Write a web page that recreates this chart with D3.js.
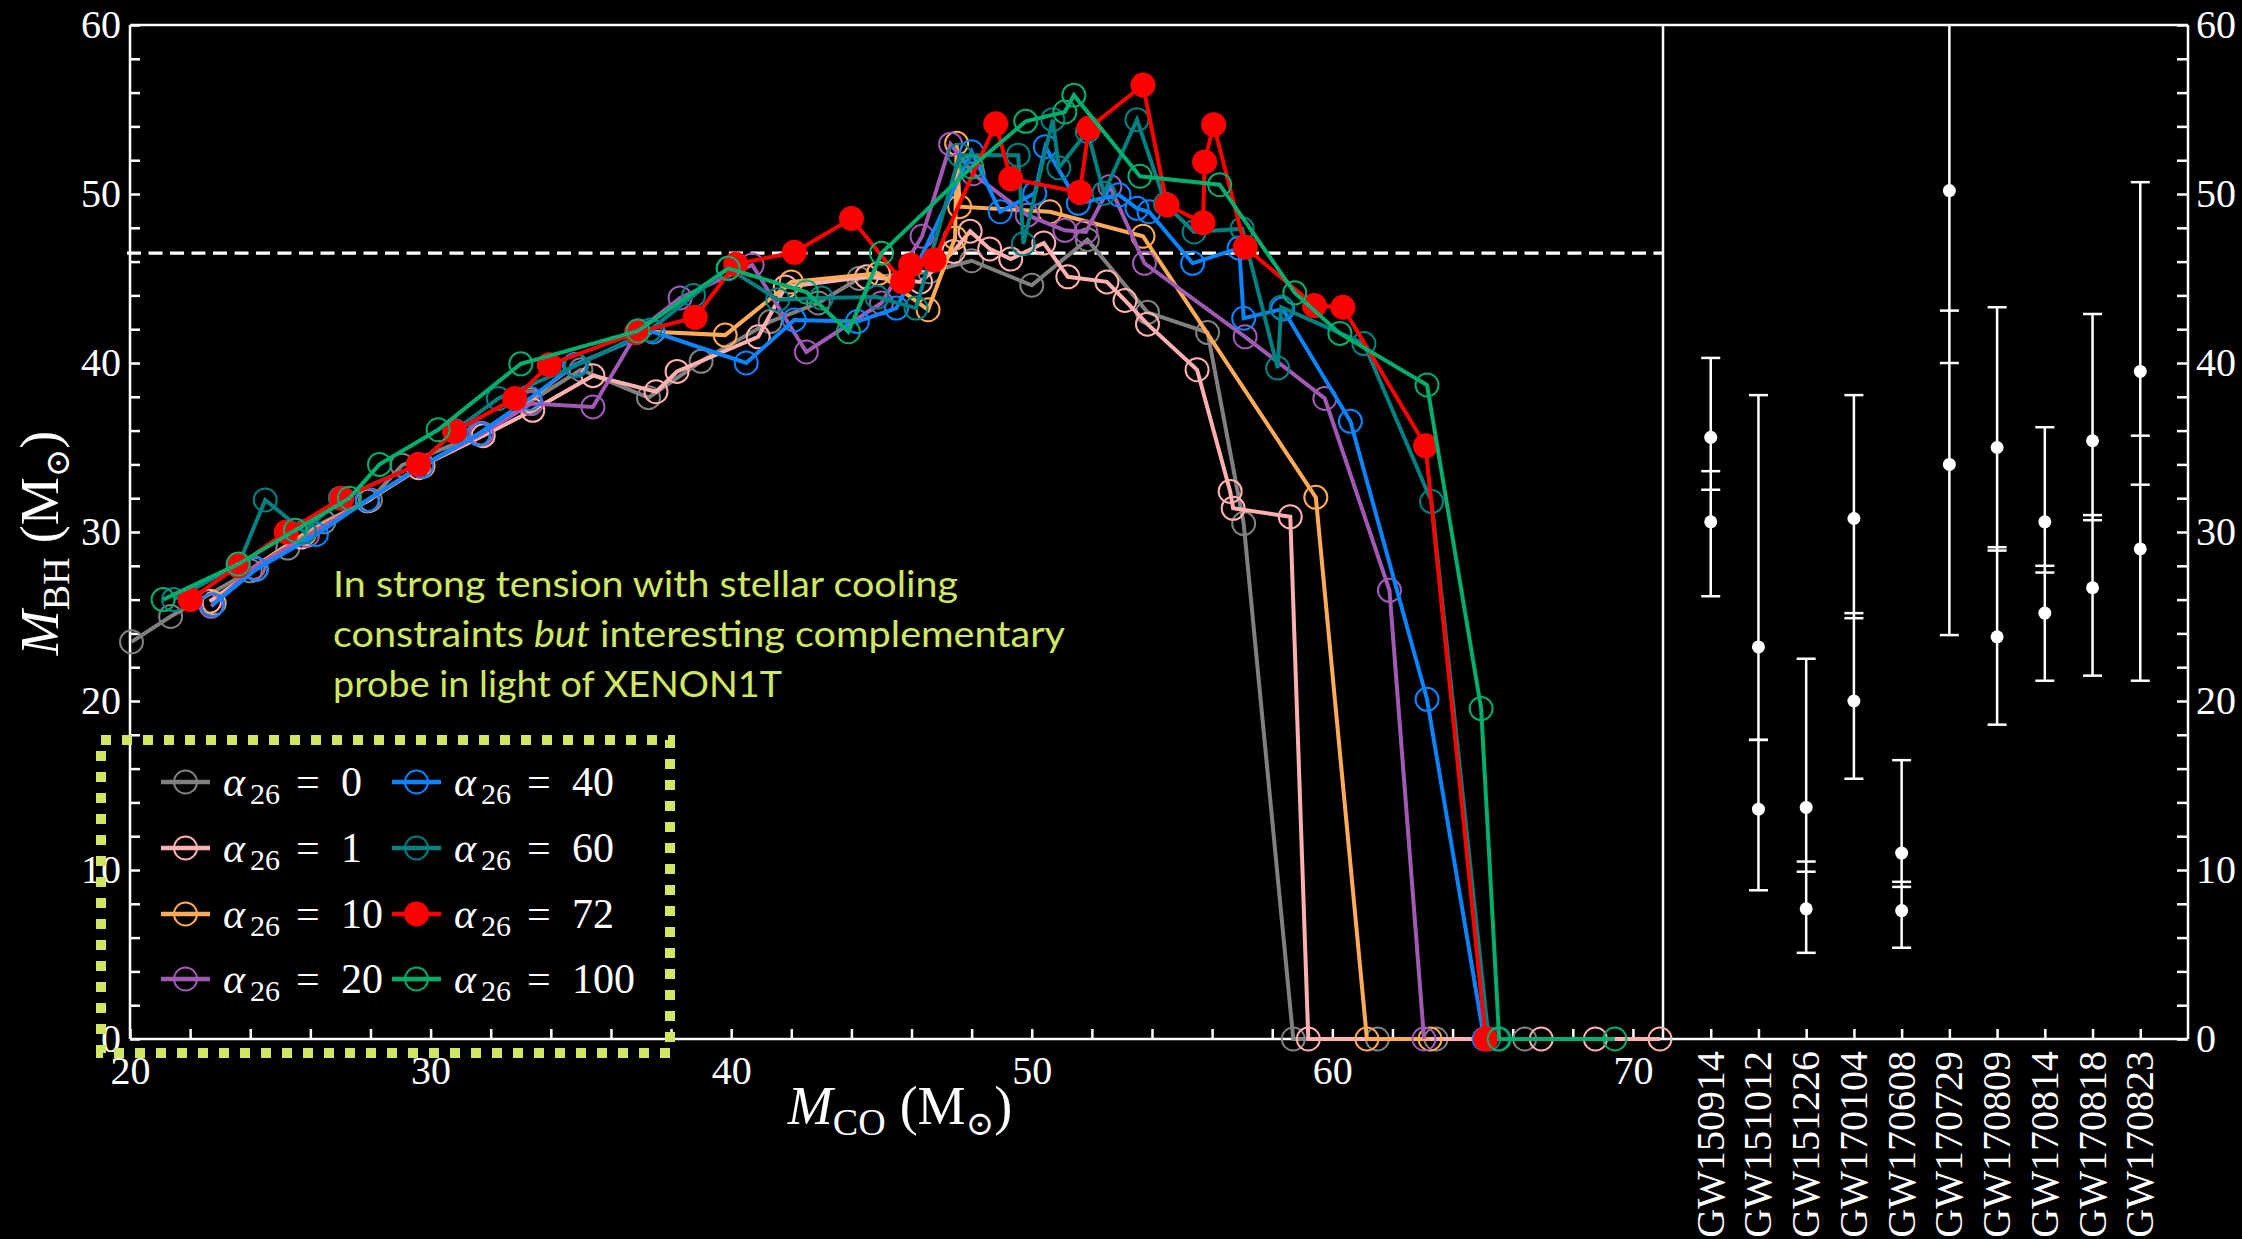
<!DOCTYPE html>
<html>
<head>
<meta charset="utf-8">
<script src="https://cdn.jsdelivr.net/npm/d3@7"></script>
<style>
  html, body { margin: 0; padding: 0; background: #000; }
  svg { display: block; }
  .serif { font-family: "Liberation Serif", "DejaVu Serif", serif; }
</style>
</head>
<body>
<svg id="chart" width="2242" height="1239"></svg>
<script>
// ---- Black-hole mass vs CO-core mass, one curve per coupling alpha_26 ----
const alphaValues = ["0", "1", "10", "20", "40", "60", "72", "100"];

const alpha0 = [[20.05,23.5],[21.35,25.0],[24.0,27.7],[25.25,29.05],[26.45,30.6],[28.0,31.9],[29.05,33.95],[31.7,35.85],[33.3,37.7],[35.0,39.6],[37.25,37.95],[39.0,40.1],[41.3,42.45],[42.9,43.55],[44.25,45.0],[46.6,45.4],[48.0,46.05],[50.0,44.6],[51.85,47.3],[53.85,43.0],[55.85,41.8],[57.05,30.5],[58.7,0],[61.5,0],[63.45,0],[66.4,0]];
const alpha1 = [[22.65,25.9],[24.2,27.8],[25.7,29.7],[27.9,31.85],[29.6,33.8],[31.75,35.7],[33.4,37.2],[35.4,39.25],[37.5,38.3],[38.2,39.5],[40.9,41.55],[41.8,44.5],[44.5,45.1],[46.3,44.8],[47.4,46.6],[47.95,47.8],[48.6,46.75],[49.3,46.15],[50.4,47.1],[51.2,45.1],[52.5,44.8],[53.1,43.7],[53.85,42.3],[55.5,39.6],[56.6,32.4],[56.7,31.4],[58.6,30.9],[59.2,0],[66.95,0],[68.75,0],[70.9,0]];
const alpha10 = [[22.8,25.8],[24.1,27.9],[25.8,29.9],[27.9,31.85],[29.75,33.9],[31.6,35.8],[33.3,37.85],[34.8,39.9],[37.4,41.85],[39.8,41.65],[42.0,44.8],[44.9,45.3],[46.55,43.15],[47.45,47.4],[47.5,53.0],[47.6,49.25],[50.6,48.95],[53.7,47.5],[59.45,32.05],[61.15,0],[63.25,0]];
const alpha20 = [[22.7,25.6],[24.1,27.9],[25.9,29.8],[27.9,31.9],[29.7,33.9],[31.7,35.8],[33.35,37.6],[35.4,37.4],[36.9,41.9],[38.3,43.85],[40.7,45.8],[42.5,40.65],[45.0,43.55],[46.35,47.5],[47.3,52.95],[48.05,51.2],[49.85,48.75],[51.1,47.85],[51.8,47.75],[52.6,50.45],[53.75,45.9],[57.1,41.55],[59.75,37.9],[61.9,26.55],[63.05,0]];
const alpha40 = [[22.75,25.7],[24.2,27.8],[26.2,29.85],[27.9,31.9],[29.7,33.9],[31.6,35.8],[33.3,37.9],[34.8,39.9],[37.4,41.85],[40.5,40.0],[42.1,42.55],[44.2,42.45],[45.5,43.25],[48.0,52.5],[48.95,48.95],[50.1,50.05],[50.45,52.8],[51.55,49.45],[52.9,49.95],[53.5,49.15],[53.9,48.95],[55.35,45.9],[56.9,46.8],[57.05,42.65],[58.35,43.2],[60.6,36.55],[63.15,20.1],[65.05,0]];
const alpha60 = [[21.45,26.0],[23.6,28.05],[24.5,31.9],[25.8,30.0],[27.0,32.0],[29.6,34.0],[30.8,36.0],[32.25,37.9],[34.85,39.85],[37.3,41.95],[38.75,44.0],[39.9,45.6],[41.55,43.75],[43.0,43.85],[44.85,43.9],[46.15,43.25],[47.6,52.3],[49.55,52.3],[49.72,47.05],[50.7,54.4],[50.9,51.55],[51.85,53.7],[52.4,50.05],[53.5,54.4],[54.45,49.4],[55.4,47.75],[57.0,47.95],[58.18,39.7],[58.3,43.3],[61.05,41.15],[63.3,31.8],[65.2,0],[65.5,0]];
const alpha72 = [[22.0,26.0],[23.6,28.0],[25.2,30.0],[27.05,32.0],[29.6,34.0],[30.8,35.95],[32.8,37.9],[33.95,39.9],[36.85,41.8],[38.8,42.7],[40.15,45.85],[42.1,46.55],[44.0,48.55],[45.7,44.8],[45.97,45.8],[46.75,46.1],[48.8,54.15],[49.3,50.9],[51.6,50.1],[51.9,53.9],[53.7,56.45],[54.5,49.35],[55.7,48.3],[55.75,51.9],[56.05,54.1],[57.1,46.85],[59.4,43.4],[60.35,43.3],[63.1,35.1],[65.1,0]];
const alpha100 = [[21.1,26.0],[23.6,28.1],[25.5,30.1],[27.3,32.0],[28.3,34.0],[30.25,36.05],[33.0,39.95],[36.9,41.9],[39.9,45.6],[42.5,44.2],[43.9,41.85],[45.0,46.5],[48.0,51.6],[49.8,54.3],[51.1,54.85],[51.4,55.85],[53.6,51.05],[56.25,50.55],[58.75,44.15],[60.25,41.75],[63.15,38.7],[64.95,19.55],[65.55,0],[69.4,0]];

const seriesData = [alpha0, alpha1, alpha10, alpha20, alpha40, alpha60, alpha72, alpha100];

// pair-instability threshold line (M_BH)
const thresholdMass = 46.5;

// ---- GWTC-1 binary black-hole component masses (median, +upper, -lower) ----
const gwEvents = ["GW150914","GW151012","GW151226","GW170104","GW170608","GW170729","GW170809","GW170814","GW170818","GW170823"];
const m1      = [35.6, 23.2, 13.7, 30.8, 11.0, 50.2, 35.0, 30.6, 35.4, 39.5];
const m1Plus  = [ 4.7, 14.9,  8.8,  7.3,  5.5, 16.2,  8.3,  5.6,  7.5, 11.2];
const m1Minus = [ 3.1,  5.5,  3.2,  5.6,  1.7, 10.2,  5.9,  3.0,  4.7,  6.7];
const m2      = [30.6, 13.6,  7.7, 20.0,  7.6, 34.0, 23.8, 25.2, 26.7, 29.0];
const m2Plus  = [ 3.0,  4.1,  2.2,  4.9,  1.4,  9.1,  5.1,  2.8,  4.3,  6.7];
const m2Minus = [ 4.4,  4.8,  2.6,  4.6,  2.2, 10.1,  5.2,  4.0,  5.2,  7.8];

// ---- styling ----
const seriesColors = ["#808080", "#ffb0b0", "#ffab57", "#a05ab4", "#0a84ff", "#008080", "#ff0000", "#00ae6e"];
const accent = "#cfe762";

const svg = d3.select("#chart");
svg.append("rect").attr("width", 2242).attr("height", 1239).attr("fill", "#000");

const x = d3.scaleLinear().domain([20, 71]).range([130, 1663]);
const y = d3.scaleLinear().domain([0, 60]).range([1039, 25]);
const gx = d3.scaleLinear().domain([0, 11]).range([1663, 2188]);

const plotLeft = x.range()[0], plotMid = x.range()[1], plotRight = gx.range()[1];
const plotTop = y.range()[1], plotBottom = y.range()[0];

// ---- axes (ticks point inward) ----
function styleAxis(g) {
  g.attr("font-family", null).attr("font-size", null);
  g.select(".domain").remove();
  g.selectAll(".tick line").attr("stroke", "#fff").attr("stroke-width", 2.5);
  g.selectAll(".tick text").attr("class", "serif").attr("fill", "#fff").style("font-size", "40px");
}
const majorFmt = d => (d % 10 === 0 ? d : "");

svg.append("g").attr("transform", `translate(${plotLeft},0)`)
  .call(d3.axisLeft(y).tickValues(d3.range(0, 61, 2)).tickSize(-10).tickPadding(9).tickFormat(majorFmt))
  .call(styleAxis);

svg.append("g").attr("transform", `translate(${plotRight},0)`)
  .call(d3.axisRight(y).tickValues(d3.range(0, 61, 2)).tickSize(-11).tickPadding(8).tickFormat(majorFmt))
  .call(styleAxis);

svg.append("g").attr("transform", `translate(0,${plotBottom})`)
  .call(d3.axisBottom(x).tickValues(d3.range(20, 71, 2)).tickSize(-10).tickPadding(17).tickFormat(majorFmt))
  .call(styleAxis);

svg.append("g").attr("transform", `translate(0,${plotBottom})`)
  .call(d3.axisBottom(gx).tickValues(d3.range(1, gwEvents.length + 1)).tickSize(-10).tickFormat(""))
  .call(styleAxis);

// event names, rotated
svg.append("g").selectAll("text").data(gwEvents).join("text")
  .attr("class", "serif")
  .attr("transform", (d, i) => `translate(${gx(i + 1) + 13},${plotBottom + 12}) rotate(-90)`)
  .attr("text-anchor", "end")
  .attr("fill", "#fff").style("font-size", "40px")
  .text(d => d);

// frame
const frame = svg.append("g").attr("stroke", "#fff").attr("stroke-width", 2.5).attr("fill", "none");
frame.append("line").attr("x1", plotLeft).attr("x2", plotRight).attr("y1", plotTop).attr("y2", plotTop);
frame.append("line").attr("x1", plotLeft).attr("x2", plotRight).attr("y1", plotBottom).attr("y2", plotBottom);
frame.append("line").attr("x1", plotLeft).attr("x2", plotLeft).attr("y1", plotTop).attr("y2", plotBottom);
frame.append("line").attr("x1", plotMid).attr("x2", plotMid).attr("y1", plotTop).attr("y2", plotBottom);
frame.append("line").attr("x1", plotRight).attr("x2", plotRight).attr("y1", plotTop).attr("y2", plotBottom);

// threshold
svg.append("line")
  .attr("x1", plotLeft - 3).attr("x2", plotMid)
  .attr("y1", y(thresholdMass)).attr("y2", y(thresholdMass))
  .attr("stroke", "#fff").attr("stroke-width", 3.4).attr("stroke-dasharray", "14 7.5");

// ---- curves ----
const line = d3.line().x(d => x(d[0])).y(d => y(d[1]));
seriesData.forEach((data, i) => {
  const g = svg.append("g");
  g.append("path").datum(data)
    .attr("d", line).attr("fill", "none")
    .attr("stroke", seriesColors[i]).attr("stroke-width", 4).attr("stroke-linejoin", "miter");
  const filled = alphaValues[i] === "72";
  g.selectAll("circle").data(data).join("circle")
    .attr("cx", d => x(d[0])).attr("cy", d => y(d[1]))
    .attr("r", filled ? 12.5 : 11.5)
    .attr("fill", filled ? seriesColors[i] : "none")
    .attr("stroke", seriesColors[i]).attr("stroke-width", filled ? 0 : 2);
});

// ---- GW error bars ----
const gw = svg.append("g").attr("stroke", "#fff").attr("fill", "#fff");
gwEvents.forEach((name, i) => {
  const cx = gx(i + 1);
  const hi = Math.min(m1[i] + m1Plus[i], 60);
  const lo = m2[i] - m2Minus[i];
  gw.append("line").attr("x1", cx).attr("x2", cx).attr("y1", y(hi)).attr("y2", y(lo)).attr("stroke-width", 2.5);
  const caps = [m1[i] + m1Plus[i], m1[i] - m1Minus[i], m2[i] + m2Plus[i], m2[i] - m2Minus[i]].filter(v => v <= 60);
  caps.forEach(v => {
    gw.append("line").attr("x1", cx - 9.5).attr("x2", cx + 9.5).attr("y1", y(v)).attr("y2", y(v)).attr("stroke-width", 2.5);
  });
  [m1[i], m2[i]].forEach(v => {
    gw.append("circle").attr("cx", cx).attr("cy", y(v)).attr("r", 6.5).attr("stroke", "none");
  });
});

// ---- axis titles ----
function massTitle(sel, sub) {
  sel.attr("class", "serif").attr("fill", "#fff").style("font-size", "54px").attr("text-anchor", "middle");
  sel.append("tspan").attr("font-style", "italic").text("M");
  sel.append("tspan").style("font-size", "38px").attr("dy", 11).text(sub);
  sel.append("tspan").attr("dy", -11).attr("dx", 14).text("(M");
  sel.append("tspan").style("font-size", "34px").attr("dy", 11).text("\u2299");
  sel.append("tspan").attr("dy", -11).text(")");
}
massTitle(svg.append("text").attr("x", 900).attr("y", 1124), "CO");
massTitle(svg.append("text").attr("transform", "translate(58,543) rotate(-90)"), "BH");

// ---- annotation ----
const noteLines = [
  [{t: "In strong tension with stellar cooling"}],
  [{t: "constraints "}, {t: "but", it: true}, {t: " interesting complementary"}],
  [{t: "probe in light of XENON1T"}]
];
const noteWidths = [625, 732, 449];
noteLines.forEach((parts, k) => {
  const t = svg.append("text").attr("x", 333).attr("y", 597 + 50 * k)
    .attr("fill", accent).attr("font-family", "Lato, 'Open Sans', sans-serif").attr("font-size", 36);
  parts.forEach(p => t.append("tspan").attr("font-style", p.it ? "italic" : "normal").text(p.t));
  t.attr("textLength", noteWidths[k]).attr("lengthAdjust", "spacingAndGlyphs");
});

// ---- legend ----
svg.append("rect").attr("x", 101).attr("y", 740).attr("width", 569).attr("height", 313)
  .attr("fill", "none").attr("stroke", accent).attr("stroke-width", 10).attr("stroke-dasharray", "10 11");

const legendCols = [161, 392];
const legendRows = [782, 848, 914, 979];
alphaValues.forEach((a, i) => {
  const lx = legendCols[Math.floor(i / 4)];
  const ly = legendRows[i % 4];
  const g = svg.append("g");
  g.append("line").attr("x1", lx).attr("x2", lx + 49).attr("y1", ly).attr("y2", ly)
    .attr("stroke", seriesColors[i]).attr("stroke-width", 4.5);
  const filled = a === "72";
  g.append("circle").attr("cx", lx + 24.5).attr("cy", ly).attr("r", filled ? 12.5 : 11.5)
    .attr("fill", filled ? seriesColors[i] : "none")
    .attr("stroke", seriesColors[i]).attr("stroke-width", filled ? 0 : 2);
  const t = g.append("text").attr("class", "serif").attr("y", ly + 14).attr("fill", "#fff").style("font-size", "42px");
  t.append("tspan").attr("x", lx + 62).attr("font-style", "italic").text("\u03b1");
  t.append("tspan").attr("x", lx + 89).attr("dy", 8).style("font-size", "30px").text("26");
  t.append("tspan").attr("x", lx + 135).attr("dy", -8).text("=");
  t.append("tspan").attr("x", lx + 180).text(a);
});
</script>
</body>
</html>
